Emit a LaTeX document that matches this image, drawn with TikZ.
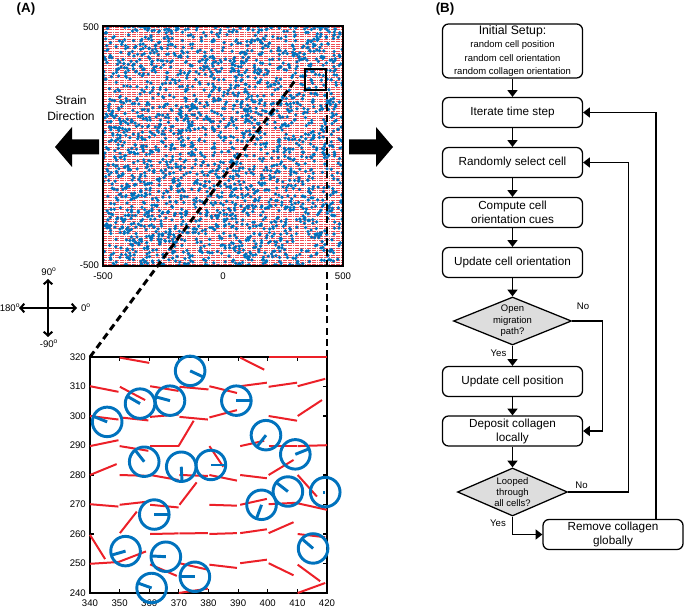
\documentclass[tikz,border=0pt]{standalone}
\usepackage{fontspec}
\setmainfont{Liberation Sans}
\usetikzlibrary{shapes.geometric,arrows.meta,calc}
\definecolor{cblue}{RGB}{0,114,189}
\definecolor{cred}{RGB}{236,32,40}
\definecolor{dfill}{RGB}{221,221,221}
\begin{document}
\begin{tikzpicture}[x=0.75pt,y=-0.75pt,
  panel/.style={font=\bfseries\fontsize{10}{12}\selectfont, inner sep=0pt},
  ticklbl/.style={font=\fontsize{7.2}{8.6}\selectfont, inner sep=0.5pt},
  stripe/.style={cred!80, line width=0.6pt, dash pattern=on 1.4pt off 0.4pt},
  dashln/.style={line width=2.2pt, dash pattern=on 5.2pt off 3.2pt},
  seg/.style={cred, line width=1.5pt},
  cell/.style={cblue, line width=2.2pt},
  comp/.style={line width=1.5pt, -{Straight Barb[length=3pt,width=6.5pt]}},
  fbox/.style={draw, line width=0.95pt, rounded corners=4.5pt, minimum width=105pt,
     minimum height=22.5pt, inner sep=1pt, align=center, font=\fontsize{8.8}{10.5}\selectfont},
  fdia/.style={diamond, draw, line width=0.95pt, fill=dfill, inner sep=0pt},
  dlbl/.style={font=\fontsize{7.1}{8.5}\selectfont, align=center, inner sep=0pt},
  yn/.style={font=\fontsize{7.2}{8.6}\selectfont, inner sep=0pt},
  arr/.style={line width=0.95pt, -{Triangle[length=5pt,width=7.5pt]}}
]
\useasboundingbox (0,0) rectangle (685,609);

% panel letters
\node[panel] (pa) at (26,9) {(A)};
\node[panel] (pb) at (445,9) {(B)};

% ---------- top plot ----------
\begin{scope}
  \clip (103,26) rectangle (343,266);
  \fill[white] (103,26) rectangle (343,266);
  \foreach \r in {0,...,99} {
    \draw[stripe] (103,{27.2+2.4*\r}) -- (343,{27.2+2.4*\r});
  }
  \pgfmathsetseed{4242}
  \foreach \k in {1,...,2400} {
    \fill[cblue] ({103+240*rnd},{26+240*rnd}) circle[radius=1.35pt];
  }
\end{scope}
\draw[line width=0.8pt] (103,26) rectangle (343,266);
\node[ticklbl, anchor=east] (t1) at (100,27) {500};
\node[ticklbl, anchor=east] (t2) at (100,265) {-500};
\node[ticklbl] (t3) at (103,276) {-500};
\node[ticklbl] (t4) at (223,276) {0};
\node[ticklbl] (t5) at (343,276) {500};

% zoom box
\node[draw, line width=1.9pt, minimum width=15.75pt, minimum height=15.75pt, inner sep=0pt] (zb) at (315.5,79.5) {};

% strain direction
\node[font=\fontsize{9}{12}\selectfont, align=center] (sd) at (71,108) {Strain\\Direction};
\fill (99,139.5) -- (72,139.5) -- (72,127) -- (55,147) -- (72,167) -- (72,154.5) -- (99,154.5) -- cycle;
\fill (349,139.5) -- (376,139.5) -- (376,127) -- (393,147) -- (376,167) -- (376,154.5) -- (349,154.5) -- cycle;

% compass
\coordinate (cc) at (48,308);
\draw[comp] (cc) -- ++(0,-29);
\draw[comp] (cc) -- ++(0,29);
\draw[comp] (cc) -- ++(-29,0);
\draw[comp] (cc) -- ++(29,0);
\node[ticklbl] (c90) at (49,272) {90\textsuperscript{o}};
\node[ticklbl] (cm90) at (49,343.5) {-90\textsuperscript{o}};
\node[ticklbl] (c180) at (10,307.5) {180\textsuperscript{o}};
\node[ticklbl] (c0) at (86,307.5) {0\textsuperscript{o}};

% ---------- bottom plot ----------
\coordinate (bl) at (90,357);
\coordinate (br) at (327,357);
\coordinate (dend) at (297,78);
\draw[dashln] (bl) -- (dend);
\draw[dashln] (br) -- (br |- zb.south);

\begin{scope}[shift={(90,593)}]
\begin{scope}[x=2.2219pt,y=2.2125pt,shift={(-340,-240)}]
  \draw[line width=1.5pt] (340,240) rectangle (420,320);
  \foreach \v in {350,360,...,410} {
    \draw[line width=0.8pt] (\v,240) -- ++(0,1.3);
    \draw[line width=0.8pt] (\v,320) -- ++(0,-1.3);
  }
  \foreach \v in {250,260,...,310} {
    \draw[line width=0.8pt] (340,\v) -- ++(1.3,0);
    \draw[line width=0.8pt] (420,\v) -- ++(-1.3,0);
  }
  \foreach \v in {340,350,...,420} {
    \node[ticklbl] (xl\v) at (\v,236.6) {\v};
  }
  \foreach \v in {240,250,...,320} {
    \node[ticklbl, anchor=east] (yl\v) at (338.9,\v) {\v};
  }
  % collagen segments
  \foreach \a/\b/\c/\d in {
    350/319.8/360/318, 390.7/319.8/398.8/315.7, 400.3/320/410/320, 410/320/420/320,
    340/310.1/349.6/308.2, 350.1/309.9/358.6/305.4, 360.3/310.1/369.9/308.5,
    370.2/309.9/380/309, 380.3/310.1/389.6/307.8, 390.7/310.1/399.7/311.3,
    400.3/309.9/409.9/311.3, 410.1/310.1/419.4/312.6,
    340/300/349.6/298.8, 350.3/299.5/359.7/298.5, 360.3/299.7/369.9/300.5,
    370.2/299.7/379.8/298.8, 380.3/299.5/389.6/302.0, 400.3/300/409.9/298.4,
    410.1/300/418.3/305.4,
    340/289.8/349.6/291.8, 350/289.8/359.7/288.2, 360.3/289.8/369.9/289.8,
    369.9/289.8/375/298.4, 380.3/289.8/385/282.8, 390.7/289.8/398.8/291.6,
    400.3/289.8/409.9/289.8, 410.1/289.8/420/290.1,
    340/280/349/283.7, 350/280/359.7/279.7, 360.3/280/369.9/278.3,
    370.2/280/379.8/279.7, 380.3/280/389.6/278.1, 390.7/280/399.7/278.9,
    400.3/280/408.7/285.1, 410.1/280/416.6/272.7,
    340/270.1/349.6/269.3, 350/269.9/359.7/271, 360.3/269.9/369.9/269,
    370.2/269.9/376/277.5, 380.3/269.9/389.6/269.6, 390.7/269.9/399.7/271.9,
    400.3/270.1/409.9/270.6, 410.1/270.4/420/268.2,
    340/259.7/345.1/251.5, 350.1/260.3/355.8/267.6, 360.3/260/369.9/260.2,
    370.2/260.2/379.8/260.3, 380.3/260/389.6/260.3, 390.7/260.3/399.7/261.6,
    400.3/260.3/408.7/264, 410.1/260/419.4/258.9,
    340/249.9/349.6/250.5, 349.6/250.5/358.9/254.1, 360.3/249.7/369.3/245.8,
    370.2/250.1/379.8/247.9, 380.3/249.6/389.6/248.5, 390.7/250.1/399.7/251.3,
    400.3/250.1/408.7/246, 410.1/249.6/417.7/244,
    370/240/379.8/241.5, 410.1/240/419.4/243.4} {
    \draw[seg] (\a,\b) -- (\c,\d);
  }
  % cells
  \foreach \cx/\cy/\an in {
    373.8/315.3/-25, 356.9/304.2/150, 367/305.2/165, 389.4/305.2/0,
    345.8/298/158, 399.4/293.5/232, 409.3/287/22, 358.3/284.5/128,
    370.8/282.8/-87, 380.8/283.4/0, 361.7/266.6/0, 397.9/269.9/250,
    406.8/274.4/142, 352/254.2/196, 365.6/252.3/177, 415.3/255.1/139,
    375.4/245.5/180, 360.8/241.7/160} {
    \draw[cell] (\cx,\cy) circle[radius=5];
    \draw[cell] (\cx,\cy) -- ++(\an:5);
  }
  \draw[cell] (419.4,274.2) circle[radius=5];
  \draw[cell] (419.4,274.2) -- ++(180:0.8);
\end{scope}
\end{scope}

% ---------- flowchart ----------
\node[fbox, minimum height=40.5pt] (init) at (512.5,51)
  {{\fontsize{9.2}{11}\selectfont Initial Setup:}\\[-0.6pt]
   {\fontsize{7.1}{8.6}\selectfont random cell position}\\[-0.4pt]
   {\fontsize{7.1}{8.6}\selectfont random cell orientation}\\[-0.4pt]
   {\fontsize{7.1}{8.6}\selectfont random collagen orientation}};
\node[fbox] (iter) at (512.5,112.5) {Iterate time step};
\node[fbox] (rand) at (512.5,162.5) {Randomly select cell};
\node[fbox] (comp) at (512.5,212.5) {Compute cell\\orientation cues};
\node[fbox] (uori) at (512.5,262.5) {Update cell orientation};
\node[fdia, minimum width=88.5pt, minimum height=36pt,
  label={[dlbl]center:Open\\migration\\path?}] (d1) at (512.5,321) {};
\node[fbox] (upos) at (512.5,381.5) {Update cell position};
\node[fbox] (dep) at (512.5,431) {Deposit collagen\\locally};
\node[fdia, minimum width=82.5pt, minimum height=36pt,
  label={[dlbl]center:Looped\\through\\all cells?}] (d2) at (512.5,492) {};
\node[fbox] (rem) at (613,534.5) {Remove collagen\\globally};

\node[yn] (no1) at (583,306) {No};
\node[yn] (yes1) at (498.5,353) {Yes};
\node[yn] (no2) at (581.5,485) {No};
\node[yn] (yes2) at (498,523.5) {Yes};

\draw[arr] (init) -- (iter);
\draw[arr] (iter) -- (rand);
\draw[arr] (rand) -- (comp);
\draw[arr] (comp) -- (uori);
\draw[arr] (uori) -- (d1);
\draw[arr] (d1) -- (upos);
\draw[arr] (upos) -- (dep);
\draw[arr] (dep) -- (d2);
\draw[arr] (d1.east) -| ($(dep.east)+(19.7,0)$) -- (dep.east);
\draw[arr] (d2.east) -| ($(rand.east)+(45.5,0)$) -- (rand.east);
\draw[arr] (d2.south) |- (rem.west);
\draw[arr] ($(rem.north)+(43,0)$) |- (iter.east);
\end{tikzpicture}
\end{document}
